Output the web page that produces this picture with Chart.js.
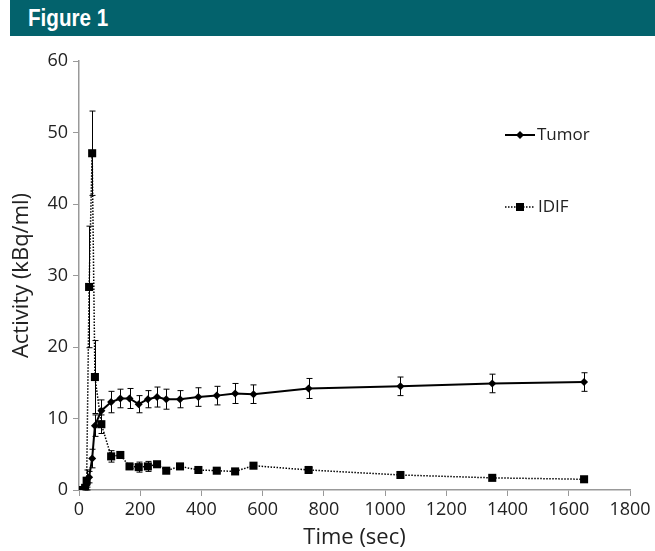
<!DOCTYPE html>
<html>
<head>
<meta charset="utf-8">
<script src="https://cdn.jsdelivr.net/npm/chart.js@4/dist/chart.umd.min.js"></script>
<style>
  html, body { margin: 0; padding: 0; background: #fff; }
  #wrap { position: relative; width: 655px; height: 551px; overflow: hidden; }
  #hdr { position: absolute; left: 10px; top: 0; width: 645px; height: 36px; background: #03626C; }
  #hdr span { position: absolute; left: 18px; top: 0; line-height: 36px; color: #fff;
              font-family: "Liberation Sans Narrow", "Liberation Sans", Arial, sans-serif; font-weight: bold;
              font-size: 24px; transform: scaleX(0.86); transform-origin: left center; white-space: nowrap; }
  canvas { position: absolute; left: 0; top: 0; }
</style>
</head>
<body>
<div id="wrap">
  <canvas id="c" width="655" height="551"></canvas>
  <div id="hdr"><span>Figure 1</span></div>
</div>
<script>
const times     = [0, 10, 20, 25, 33, 43, 52, 73, 105, 135, 165, 195, 225, 255, 285, 330, 390, 450, 510, 570, 750, 1050, 1350, 1650];
const tumor     = [0, 0, 0.1, 0.7, 1.8, 4.4, 9.0, 11.1, 12.3, 12.8, 12.8, 12.0, 12.7, 13.0, 12.7, 12.7, 13.0, 13.2, 13.5, 13.4, 14.2, 14.5, 14.9, 15.1];
const tumorErr  = [0, 0, 0.1, 0.3, 0.8, 1.3, 1.5, 1.5, 1.5, 1.3, 1.4, 1.2, 1.2, 1.4, 1.4, 1.2, 1.3, 1.3, 1.4, 1.3, 1.4, 1.3, 1.3, 1.3];
const idif      = [0, 0, 0.3, 1.3, 28.4, 47.1, 15.8, 9.2, 4.7, 4.9, 3.3, 3.2, 3.3, 3.6, 2.7, 3.3, 2.8, 2.7, 2.6, 3.4, 2.8, 2.1, 1.7, 1.5];
const idifErr   = [0, 0, 0.2, 1.5, 8.5, 5.9, 5.1, 1.3, 0.8, 0.3, 0.3, 0.7, 0.7, 0.3, 0.3, 0.3, 0.3, 0.3, 0.3, 0.3, 0.3, 0.3, 0.3, 0.3];
const xTicks    = [0, 200, 400, 600, 800, 1000, 1200, 1400, 1600, 1800];
const yTicks    = [0, 10, 20, 30, 40, 50, 60];
const seriesNames = ["Tumor", "IDIF"];

const FONT = '"Open Sans", "DejaVu Sans", sans-serif';

const errorBars = {
  id: 'errorBars',
  beforeDatasetsDraw(chart) {
    const ctx = chart.ctx, xs = chart.scales.x, ys = chart.scales.y;
    const sets = [[tumor, tumorErr], [idif, idifErr]];
    ctx.save();
    ctx.strokeStyle = '#000';
    ctx.lineWidth = 1;
    sets.forEach(([vals, errs]) => {
      vals.forEach((v, i) => {
        const e = errs[i];
        if (!e) return;
        const px = Math.round(xs.getPixelForValue(times[i])) + 0.5;
        const top = ys.getPixelForValue(v + e);
        const bot = ys.getPixelForValue(Math.max(0, v - e));
        ctx.beginPath();
        ctx.moveTo(px, top); ctx.lineTo(px, bot);
        ctx.moveTo(px - 3, top); ctx.lineTo(px + 3, top);
        ctx.moveTo(px - 3, bot); ctx.lineTo(px + 3, bot);
        ctx.stroke();
      });
    });
    ctx.restore();
  }
};

const customLegend = {
  id: 'customLegend',
  afterDraw(chart) {
    const ctx = chart.ctx;
    ctx.save();
    ctx.font = '17px ' + FONT;
    ctx.textBaseline = 'middle';
    // Tumor
    let y = 135;
    ctx.strokeStyle = '#000'; ctx.lineWidth = 2; ctx.setLineDash([]);
    ctx.beginPath(); ctx.moveTo(505, y); ctx.lineTo(535, y); ctx.stroke();
    ctx.fillStyle = '#000';
    ctx.beginPath(); ctx.moveTo(520, y - 4); ctx.lineTo(524, y); ctx.lineTo(520, y + 4); ctx.lineTo(516, y); ctx.closePath(); ctx.fill();
    ctx.fillStyle = '#222';
    ctx.fillText(seriesNames[0], 537, y);
    // IDIF
    y = 207;
    ctx.strokeStyle = '#000'; ctx.lineWidth = 1.5; ctx.setLineDash([1.5, 1.5]);
    ctx.beginPath(); ctx.moveTo(505, y); ctx.lineTo(535, y); ctx.stroke();
    ctx.setLineDash([]);
    ctx.fillStyle = '#000';
    ctx.fillRect(516, y - 4, 8, 8);
    ctx.fillStyle = '#222';
    ctx.fillText(seriesNames[1], 538, y);
    ctx.restore();
  }
};

new Chart(document.getElementById('c'), {
  type: 'line',
  data: {
    datasets: [
      {
        label: seriesNames[0],
        data: times.map((t, i) => ({ x: t, y: tumor[i] })),
        borderColor: '#000', backgroundColor: '#000', borderWidth: 2,
        pointStyle: 'rectRot', pointRadius: 4, pointBorderWidth: 0, tension: 0
      },
      {
        label: seriesNames[1],
        data: times.map((t, i) => ({ x: t, y: idif[i] })),
        borderColor: '#000', backgroundColor: '#000', borderWidth: 1.5, borderDash: [1.5, 1.5],
        pointStyle: 'rect', pointRadius: 5.7, pointBorderWidth: 0, tension: 0
      }
    ]
  },
  options: {
    responsive: false,
    animation: false,
    layout: { padding: { top: 61, right: 25, left: 0, bottom: 0 } },
    plugins: { legend: { display: false }, tooltip: { enabled: false } },
    scales: {
      x: {
        type: 'linear', min: 0, max: 1800,
        afterBuildTicks(s) { s.ticks = xTicks.map(v => ({ value: v })); },
        afterFit(s) { s.height = 61; },
        grid: { drawOnChartArea: false, drawTicks: true, tickLength: 6, color: '#999' },
        border: { color: '#999', width: 1.5 },
        ticks: { color: '#222', padding: 3, font: { family: FONT, size: 18 }, maxRotation: 0, autoSkip: false,
                 callback: v => String(v) },
        title: { display: true, text: 'Time (sec)', color: '#222', font: { family: FONT, size: 22 }, padding: { top: 0, bottom: 0 } }
      },
      y: {
        min: 0, max: 60,
        afterBuildTicks(s) { s.ticks = yTicks.map(v => ({ value: v })); },
        afterFit(s) { s.width = 79; },
        grid: { drawOnChartArea: false, drawTicks: true, tickLength: 6, color: '#999' },
        border: { color: '#999', width: 1.5 },
        ticks: { color: '#222', padding: 5, font: { family: FONT, size: 18 }, callback: v => String(v) },
        title: { display: true, text: 'Activity (kBq/ml)', color: '#222', font: { family: FONT, size: 22 }, padding: { top: 9, bottom: 0 } }
      }
    }
  },
  plugins: [errorBars, customLegend]
});
</script>
</body>
</html>
